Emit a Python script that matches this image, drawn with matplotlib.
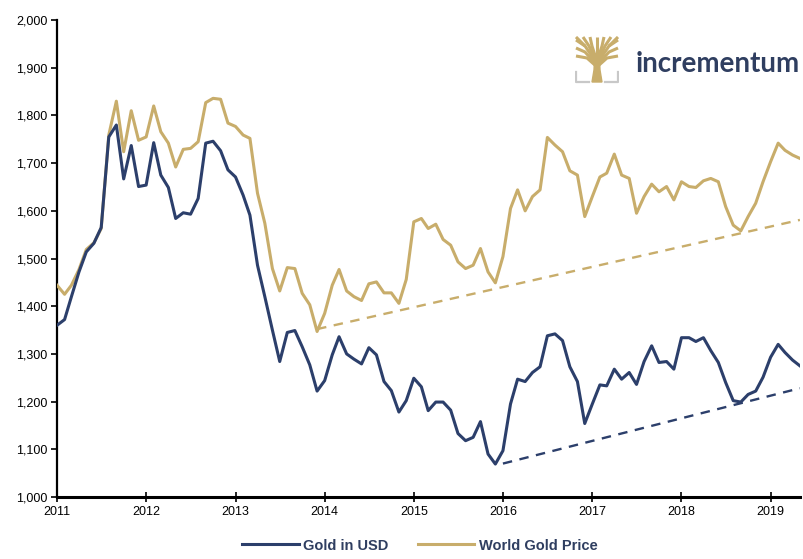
import numpy as np
import pandas as pd
import matplotlib
matplotlib.use("Agg")
from matplotlib import pyplot as plt
import matplotlib.dates as mdates
from matplotlib.ticker import FuncFormatter, MultipleLocator

NAVY = "#2C3F6B"
TAN = "#C8AD6B"
TEXT_NAVY = "#2F3E60"

# monthly values, Jan 2011 - May 2019
months = pd.date_range("2011-01-01", "2019-05-01", freq="MS")

gold_usd = [
    1360, 1372, 1420, 1472, 1514, 1532, 1565, 1755, 1780, 1667, 1737, 1651,
    1654, 1743, 1675, 1649, 1584, 1596, 1593, 1626, 1742, 1746, 1726, 1686,
    1671, 1633, 1591, 1486, 1420, 1350, 1284, 1345, 1349, 1315, 1277, 1222,
    1244, 1298, 1336, 1300, 1289, 1279, 1313, 1298, 1242, 1223, 1178, 1202,
    1249, 1231, 1181, 1199, 1199, 1182, 1133, 1118, 1125, 1158, 1090, 1069,
    1097, 1195, 1247, 1242, 1261, 1273, 1338, 1342, 1328, 1273, 1242, 1154,
    1195, 1235, 1233, 1268, 1247, 1261, 1236, 1284, 1317, 1282, 1284, 1268,
    1334, 1334, 1326, 1334, 1307, 1282, 1240, 1202, 1199, 1215, 1222, 1251,
    1293, 1320, 1303, 1287, 1275,
]

world_gold = [
    1444, 1425, 1444, 1477, 1519, 1533, 1563, 1759, 1830, 1724, 1810, 1748,
    1755, 1820, 1766, 1742, 1692, 1729, 1731, 1745, 1827, 1836, 1834, 1784,
    1777, 1759, 1752, 1637, 1574, 1479, 1432, 1481, 1479, 1427, 1403, 1347,
    1385, 1444, 1477, 1432, 1420, 1412, 1447, 1451, 1428, 1428, 1406, 1456,
    1577, 1584, 1563, 1572, 1540, 1528, 1493, 1479, 1486, 1521, 1472, 1449,
    1504, 1605, 1644, 1600, 1630, 1644, 1754, 1738, 1724, 1684, 1675, 1588,
    1630, 1671, 1679, 1719, 1675, 1668, 1595, 1630, 1656, 1640, 1651, 1623,
    1661, 1651, 1649, 1663, 1668, 1661, 1609, 1570, 1558, 1588, 1616, 1661,
    1703, 1742, 1727, 1717, 1710,
]

# support lines
usd_trend_dates = pd.to_datetime(["2016-01-01", "2019-05-01"])
usd_trend = [1070, 1228]
world_trend_dates = pd.to_datetime(["2013-12-01", "2019-05-01"])
world_trend = [1352, 1581]

fig = plt.figure(figsize=(8.04, 5.59), dpi=100)
plt.rcParams["font.family"] = ["Liberation Sans", "DejaVu Sans"]
ax = fig.add_axes([0.0709, 0.111, 0.924, 0.853])

ax.plot(months, world_gold, color=TAN, lw=2.2, label="World Gold Price", zorder=3)
ax.plot(months, gold_usd, color=NAVY, lw=2.2, label="Gold in USD", zorder=4)
ax.plot(world_trend_dates, world_trend, color=TAN, lw=1.7, dashes=(4, 3.2), zorder=2)
ax.plot(usd_trend_dates, usd_trend, color=NAVY, lw=1.7, dashes=(4, 3.2), zorder=2)

ax.set_ylim(1000, 2000)
ax.set_xlim(months[0], months[-1])
ax.yaxis.set_major_locator(MultipleLocator(100))
ax.yaxis.set_major_formatter(FuncFormatter(lambda v, p: f"{int(v):,}"))
ax.xaxis.set_major_locator(mdates.YearLocator())
ax.xaxis.set_major_formatter(mdates.DateFormatter("%Y"))

for s in ["top", "right"]:
    ax.spines[s].set_visible(False)
ax.spines["left"].set_linewidth(1.6)
ax.spines["bottom"].set_linewidth(2.2)
ax.tick_params(axis="y", direction="out", length=4, width=1.2, labelsize=9, pad=3)
ax.tick_params(axis="x", direction="inout", length=7, width=1.2, labelsize=9, pad=3)

# legend at the bottom
h_usd = plt.Line2D([], [], color=NAVY, lw=2.2)
h_world = plt.Line2D([], [], color=TAN, lw=2.2)
fig.legend([h_usd, h_world], ["Gold in USD", "World Gold Price"], loc="lower center",
           bbox_to_anchor=(0.522, -0.012), ncol=2, frameon=False, handlelength=3.9,
           handletextpad=0.3, columnspacing=2.0,
           prop={"weight": "bold", "size": 10.5}, labelcolor=TEXT_NAVY)

# logo: tree icon + wordmark
lax = fig.add_axes([575 / 804, 1 - 84 / 559, 44 / 804, 48 / 559])
lax.set_xlim(0, 44)
lax.set_ylim(48, 0)
lax.axis("off")
lax.fill([17, 27, 25, 24.5, 19.5, 19], [46, 46, 34, 24, 24, 34], color=TAN)
branches = [
    [(21, 30), (12, 22), (1, 20)], [(21, 28), (10, 16), (1, 12)],
    [(21, 26), (10, 10), (1, 4)], [(21, 25), (14, 10), (8, 1)],
    [(21.5, 24), (17, 10), (15, 1)], [(22, 24), (22, 1)],
    [(22.5, 24), (27, 10), (29, 1)], [(23, 25), (30, 10), (36, 1)],
    [(23, 26), (34, 10), (43, 4)], [(23, 28), (34, 16), (43, 12)],
    [(23, 30), (32, 22), (43, 20)], [(1, 1), (10, 10)], [(43, 1), (34, 10)],
]
for b in branches:
    xs, ys = zip(*b)
    lax.plot(xs, ys, color=TAN, lw=2.2, solid_capstyle="butt")
lax.plot([1, 1, 14], [36, 46, 46], color="#C8C8C8", lw=1.6)
lax.plot([30, 43, 43], [46, 46, 36], color="#C8C8C8", lw=1.6)

fig.text(636 / 804, 1 - 72 / 559, "incrementum", color=TEXT_NAVY, fontsize=20,
         fontweight="bold", family=["Lato", "DejaVu Sans"], va="baseline", ha="left")

fig.savefig("out.png", dpi=100)
